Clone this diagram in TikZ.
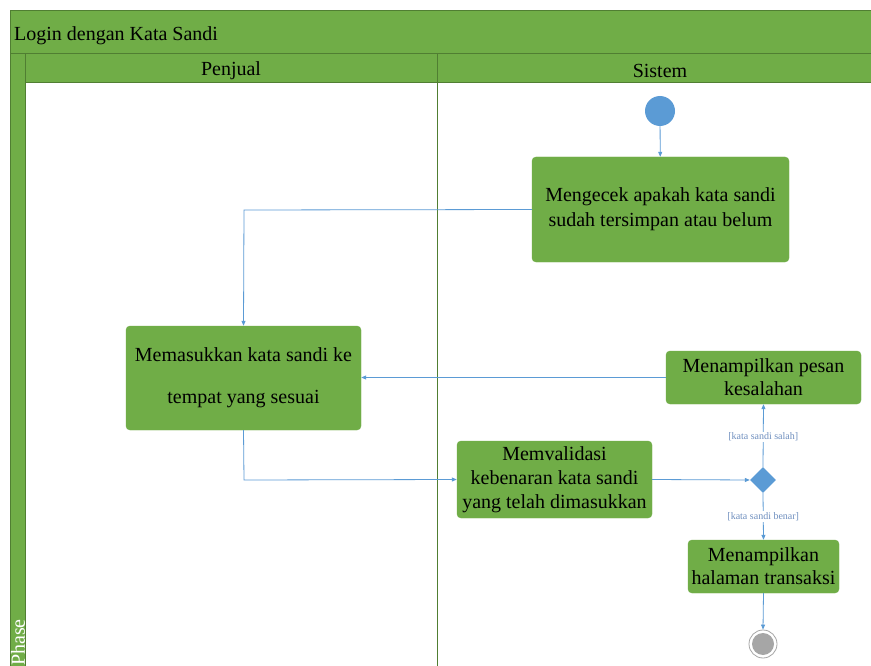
\documentclass[tikz,border=0pt]{standalone}
\usepackage{fontspec}
\setmainfont{Liberation Serif}
\usetikzlibrary{arrows.meta,shapes.geometric}
\definecolor{grn}{HTML}{70AD47}
\definecolor{grnd}{HTML}{507E32}
\definecolor{blu}{HTML}{5B9BD5}
\definecolor{lbl}{HTML}{6F8FBF}
\tikzset{
  act/.style={draw=grn, fill=grn, rounded corners=4pt, align=center, font=\fontsize{20}{25}\selectfont, inner sep=0pt},
  flow/.style={draw=blu, line width=0.8pt, -{Triangle[length=5pt,width=4pt]}},
  guard/.style={font=\fontsize{10}{11}\selectfont, text=lbl, fill=white, inner sep=1pt},
  hdr/.style={font=\fontsize{20}{22}\selectfont},
}
\begin{document}
\begin{tikzpicture}[x=1pt,y=-1pt]
\useasboundingbox (0,0) rectangle (871,666);
% frame
\fill[grn] (10,11) rectangle (880,83);
\fill[grn] (10,54) rectangle (25,680);
\fill[white] (25,83) rectangle (880,680);
\draw[grnd, line width=1pt] (10,680) -- (10,11) -- (880,11);
\draw[grnd, line width=1pt] (10,54) -- (880,54);
\draw[grnd, line width=1pt] (25,680) -- (25,54);
\draw[grnd, line width=1pt] (25,83) -- (880,83);
\draw[grnd, line width=1pt] (437,54) -- (437,680);
\node[hdr, anchor=west, inner sep=0pt] (title) at (14,36) {Login dengan Kata Sandi};
\node[hdr] (penjual) at (231,71) {Penjual};
\node[hdr] (sistem) at (660,71) {Sistem};
\node[hdr, text=white, rotate=90, anchor=west, inner sep=0pt] (phase) at (18,666) {Phase};
% nodes
\node[circle, fill=blu, minimum size=30pt, inner sep=0pt] (start) at (660,111) {};
\node[act, minimum width=257pt, minimum height=105pt] (b1) at (660.5,209.5) {Mengecek apakah kata sandi\\sudah tersimpan atau belum};
\node[act, minimum width=235pt, minimum height=104pt, font=\fontsize{20}{42}\selectfont] (b2) at (243.5,378) {Memasukkan kata sandi ke\\tempat yang sesuai};
\node[act, minimum width=195pt, minimum height=53pt, font=\fontsize{20}{23}\selectfont] (b3) at (763.5,377.5) {Menampilkan pesan\\kesalahan};
\node[act, minimum width=195pt, minimum height=77pt, font=\fontsize{20}{24}\selectfont] (b4) at (554.5,479.5) {Memvalidasi\\kebenaran kata sandi\\yang telah dimasukkan};
\node[diamond, fill=blu, minimum width=26pt, minimum height=26pt, inner sep=0pt] (dec) at (763,480) {};
\node[act, minimum width=151pt, minimum height=53pt, font=\fontsize{20}{23}\selectfont] (b5) at (763.5,566.5) {Menampilkan\\halaman transaksi};
\node[circle, draw=gray!70, line width=0.8pt, fill=white, minimum size=28pt, inner sep=0pt] (end) at (763,644) {};
\node[circle, fill=gray!70, minimum size=22pt, inner sep=0pt] (endin) at (763,644) {};
% edges
\draw[flow] (start) -- (b1);
\draw[flow] (b1.west) -- (244,210) -- (b2.north);
\draw[flow] (b3.west) -- (b3.west -| b2.east);
\draw[flow] (b2.south) -- (244,480) -- (b4.west);
\draw[flow] (b4.east) -- (dec.west);
\draw[flow] (dec.north) -- node[guard, pos=0.48] (gs) {[kata sandi salah]} (b3.south);
\draw[flow] (dec.south) -- node[guard, pos=0.5] (gb) {[kata sandi benar]} (b5.north);
\draw[flow] (b5.south) -- (end.north);
\end{tikzpicture}
\end{document}
